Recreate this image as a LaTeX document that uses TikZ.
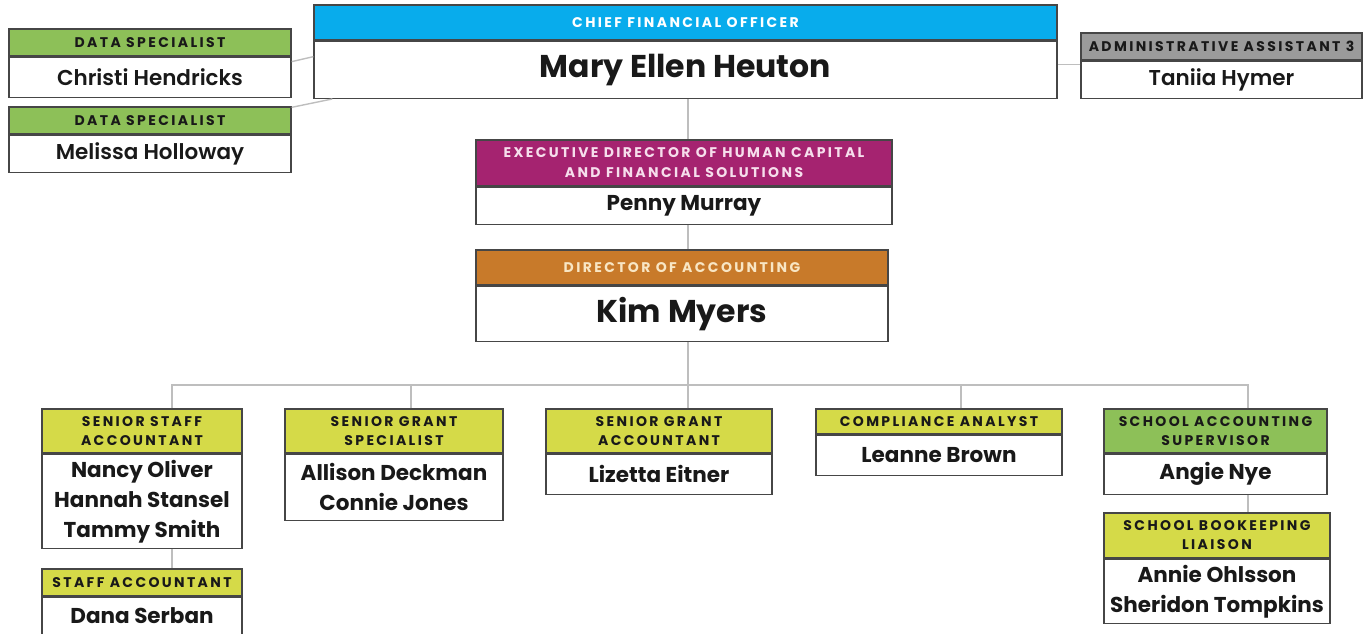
\documentclass[tikz,border=0pt]{standalone}
\usepackage{fontspec}
\setmainfont{Poppins}
\newfontfamily\headfont[LetterSpace=17]{Poppins}
\newfontfamily\semifont{Poppins SemiBold}
\usetikzlibrary{positioning}
\definecolor{cfoblue}{RGB}{8,172,236}
\definecolor{dsgreen}{RGB}{141,192,88}
\definecolor{ylw}{RGB}{213,218,72}
\definecolor{magenta}{RGB}{165,35,112}
\definecolor{ochre}{RGB}{200,122,42}
\definecolor{adgray}{RGB}{155,155,155}
\definecolor{edge}{RGB}{70,70,70}
\definecolor{wire}{RGB}{190,190,190}
\definecolor{ink}{RGB}{25,25,25}
\definecolor{pinkish}{RGB}{246,222,236}
\definecolor{cream}{RGB}{248,230,196}
\begin{document}
\begin{tikzpicture}[%
  x = 1pt, y = -1pt,
  head/.style = {draw = edge, line width = 1.3pt, fill = #1, text = ink, inner sep = 0pt,
    align = center, font = \headfont\bfseries\fontsize{14}{19}\selectfont},
  person/.style = {draw = edge, line width = 1.3pt, fill = white, text = ink, inner sep = 0pt,
    align = center, font = \bfseries\fontsize{21.5}{30}\selectfont},
  big/.style = {font = \bfseries\fontsize{31.5}{36}\selectfont},
  quiet/.style = {font = \semifont\fontsize{21.5}{30}\selectfont},
  wire/.style = {draw = wire, line width = 1.4pt}]
  \clip (0, 0) rectangle (1363, 633);

  \node[head = cfoblue, text = white, minimum width = 743, minimum height = 35] (cfoT) at (685.5, 22.5) {CHIEF FINANCIAL OFFICER};
  \node[person, big, minimum width = 743, minimum height = 57, below = 0pt of cfoT] (cfo) {Mary Ellen Heuton};

  \node[head = dsgreen, minimum width = 282, minimum height = 27] (ds1T) at (150, 42.5) {DATA SPECIALIST};
  \node[person, quiet, minimum width = 282, minimum height = 40, below = 0pt of ds1T] (ds1) {Christi Hendricks};
  \node[head = dsgreen, minimum width = 282, minimum height = 27] (ds2T) at (150, 120.5) {DATA SPECIALIST};
  \node[person, quiet, minimum width = 282, minimum height = 37, below = 0pt of ds2T] (ds2) {Melissa Holloway};

  \node[head = adgray, minimum width = 281, minimum height = 27] (admT) at (1221.5, 46.5) {ADMINISTRATIVE ASSISTANT 3};
  \node[person, quiet, minimum width = 281, minimum height = 37, below = 0pt of admT] (adm) {Taniia Hymer};

  \node[head = magenta, text = pinkish, minimum width = 416, minimum height = 46] (exT) at (684, 163) {EXECUTIVE DIRECTOR OF HUMAN CAPITAL\\[1pt]AND FINANCIAL SOLUTIONS};
  \node[person, minimum width = 416, minimum height = 37, below = 0pt of exT] (ex) {Penny Murray};

  \node[head = ochre, text = cream, minimum width = 412, minimum height = 35] (dirT) at (682, 267.5) {DIRECTOR OF ACCOUNTING};
  \node[person, big, minimum width = 412, minimum height = 55, below = 0pt of dirT] (dir) {Kim Myers};

  \node[head = ylw, minimum width = 200, minimum height = 44] (ssaT) at (142, 431) {SENIOR STAFF\\ACCOUNTANT};
  \node[person, minimum width = 200, minimum height = 94, below = 0pt of ssaT] (ssa) {Nancy Oliver\\Hannah Stansel\\Tammy Smith};
  \node[head = ylw, minimum width = 200, minimum height = 27] (saT) at (142, 582.5) {STAFF ACCOUNTANT};
  \node[person, minimum width = 200, minimum height = 45, below = 0pt of saT] (sa) {\raisebox{9.5pt}{Dana Serban}};

  \node[head = ylw, minimum width = 218, minimum height = 44] (sgsT) at (394, 431) {SENIOR GRANT\\SPECIALIST};
  \node[person, minimum width = 218, minimum height = 66, below = 0pt of sgsT] (sgs) {Allison Deckman\\Connie Jones};

  \node[head = ylw, minimum width = 226, minimum height = 44] (sgaT) at (659, 431) {SENIOR GRANT\\ACCOUNTANT};
  \node[person, minimum width = 226, minimum height = 40, below = 0pt of sgaT] (sga) {Lizetta Eitner};

  \node[head = ylw, minimum width = 246, minimum height = 25] (caT) at (939, 421.5) {COMPLIANCE ANALYST};
  \node[person, minimum width = 246, minimum height = 40, below = 0pt of caT] (ca) {Leanne Brown};

  \node[head = dsgreen, minimum width = 223, minimum height = 44] (sasT) at (1215.5, 431) {SCHOOL ACCOUNTING\\SUPERVISOR};
  \node[person, minimum width = 223, minimum height = 40, below = 0pt of sasT] (sas) {Angie Nye};
  \node[head = ylw, minimum width = 226, minimum height = 45] (sblT) at (1217, 535.5) {SCHOOL BOOKEEPING\\LIAISON};
  \node[person, minimum width = 226, minimum height = 64, below = 0pt of sblT] (sbl) {Annie Ohlsson\\Sheridon Tompkins};

  \coordinate (spine) at (688, 385);

  \draw[wire] ([yshift = -5pt]ds1.north east) -- ([yshift = -16pt]cfo.north west);
  \draw[wire] ([yshift = -1pt]ds2T.north east) -- ([xshift = 19pt]cfo.south west);
  \draw[wire] ([yshift = -4pt]adm.north west) -- ([yshift = -24pt]cfo.north east);
  \draw[wire] (cfo.south -| spine) -- (exT.north -| spine);
  \draw[wire] (ex.south -| spine) -- (dirT.north -| spine);
  \draw[wire] (dir.south -| spine) -- (spine);
  \draw[wire] ([xshift = 30pt]ssaT.north) |- (spine);
  \draw[wire] ([xshift = 17pt]sgsT.north) |- (spine);
  \draw[wire] (sgaT.north -| spine) -- (spine);
  \draw[wire] ([xshift = 22pt]caT.north) |- (spine);
  \draw[wire] ([xshift = 32.5pt]sasT.north) |- (spine);
  \draw[wire] ([xshift = 30pt]ssa.south) -- ([xshift = 30pt]saT.north);
  \draw[wire] ([xshift = 32.5pt]sas.south) -- ([xshift = 31pt]sblT.north);
\end{tikzpicture}
\end{document}
